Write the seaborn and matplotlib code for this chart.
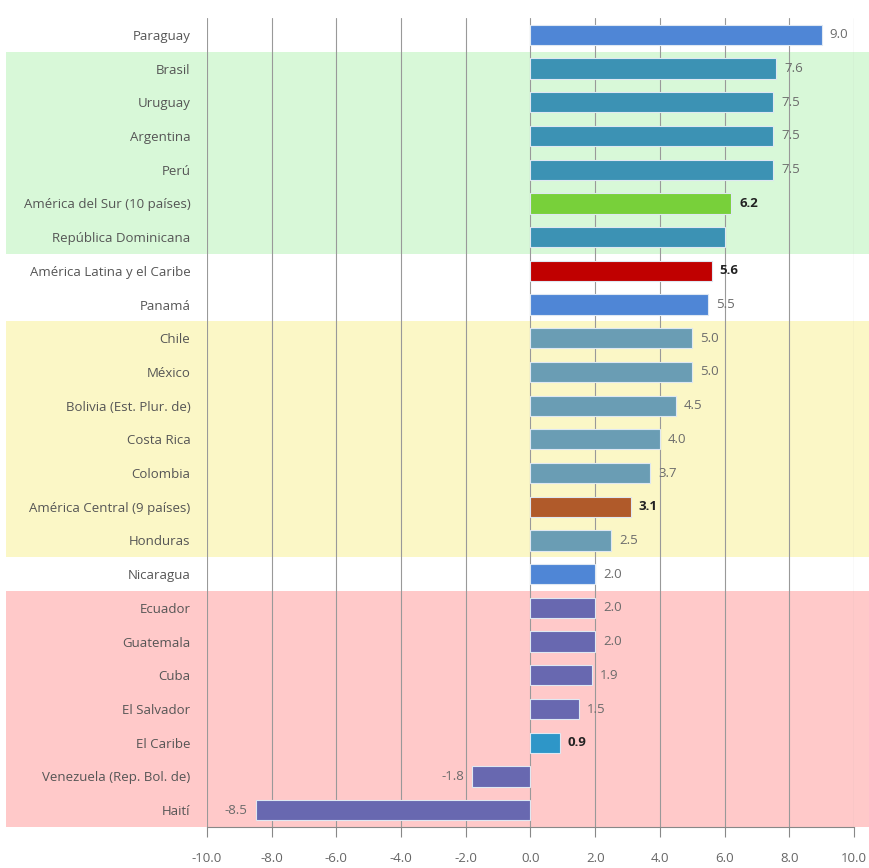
import matplotlib
matplotlib.use("Agg")
import matplotlib.pyplot as plt
import seaborn as sns
from matplotlib import font_manager

# data
paises = ["Paraguay", "Brasil", "Uruguay", "Argentina", "Perú",
          "América del Sur (10 países)", "República Dominicana",
          "América Latina y el Caribe", "Panamá", "Chile", "México",
          "Bolivia (Est. Plur. de)", "Costa Rica", "Colombia",
          "América Central (9 países)", "Honduras", "Nicaragua", "Ecuador",
          "Guatemala", "Cuba", "El Salvador", "El Caribe",
          "Venezuela (Rep. Bol. de)", "Haití"]
crecimiento = [9.0, 7.6, 7.5, 7.5, 7.5, 6.2, 6.0, 5.6, 5.5, 5.0, 5.0, 4.5,
               4.0, 3.7, 3.1, 2.5, 2.0, 2.0, 2.0, 1.9, 1.5, 0.9, -1.8, -8.5]
etiquetas = ["9.0", "7.6", "7.5", "7.5", "7.5", "6.2", "", "5.6", "5.5",
             "5.0", "5.0", "4.5", "4.0", "3.7", "3.1", "2.5", "2.0", "2.0",
             "2.0", "1.9", "1.5", "0.9", "-1.8", "-8.5"]
agregados = ["América del Sur (10 países)", "América Latina y el Caribe",
             "América Central (9 países)", "El Caribe"]
x_ticks = [-10, -8, -6, -4, -2, 0, 2, 4, 6, 8, 10]

# colores de barras
c_azul, c_teal, c_gris = "#4F86D6", "#3C92B4", "#6A9DB4"
c_morado = "#6868B0"
colores = [c_azul, c_teal, c_teal, c_teal, c_teal, "#78D03A", c_teal,
           "#C00000", c_azul, c_gris, c_gris, c_gris, c_gris, c_gris,
           "#B05A2A", c_gris, c_azul, c_morado, c_morado, c_morado, c_morado,
           "#2E96C8", c_morado, c_morado]
paleta = dict(zip(paises, colores))

# bandas de fondo: (fila inicial, fila final, color)
bandas = [(1, 6, "#D8F8D8"), (9, 15, "#FBF7C6"), (17, 23, "#FFC9C9")]

names = {f.name for f in font_manager.fontManager.ttflist}
familia = ["Liberation Sans Narrow", "DejaVu Sans"] if "Liberation Sans Narrow" in names else ["Open Sans", "DejaVu Sans"]

sns.set_style("white")
plt.rcParams["font.family"] = familia

fig = plt.figure(figsize=(8.7, 8.68), dpi=100)
ax = fig.add_axes([207 / 870, 1 - 827 / 868, 647 / 870, (827 - 18) / 868])

for ini, fin, col in bandas:
    band = ax.axhspan(ini - 0.5, fin + 0.5, xmin=-0.31, xmax=1.03,
                      color=col, zorder=0, lw=0)
    band.set_clip_on(False)

sns.barplot(x=crecimiento, y=paises, hue=paises, palette=paleta, legend=False,
            orient="h", width=0.6, saturation=1, ax=ax, zorder=3,
            edgecolor="#dfe8f2", linewidth=0.8)

ax.set_xlim(-10, 10)
ax.set_ylim(len(paises) - 0.5, -0.5)
ax.set_xticks(x_ticks)
ax.set_xticklabels([f"{t:.1f}" for t in x_ticks], color="#666666", fontsize=9.5)
ax.tick_params(axis="x", direction="out", length=7, width=0.8, color="#888888", pad=11, bottom=True)
ax.tick_params(axis="y", length=0, pad=12, labelsize=9.5, labelcolor="#555555")
ax.set_xlabel("")
ax.set_ylabel("")

for x in x_ticks:
    ax.axvline(x, color="#999999", lw=0.8, zorder=1)

for s in ["top", "right", "left"]:
    ax.spines[s].set_visible(False)
ax.spines["bottom"].set_color("#888888")
ax.spines["bottom"].set_linewidth(0.8)
ax.patch.set_alpha(0)

for i, (p, v, lab) in enumerate(zip(paises, crecimiento, etiquetas)):
    if not lab:
        continue
    bold = p in agregados
    off = 0.25 if v >= 0 else -0.25
    ax.text(v + off, i, lab, va="center", ha="left" if v >= 0 else "right",
            fontsize=9.5, color="#222222" if bold else "#6b6b6b",
            fontweight="bold" if bold else "normal", zorder=4)

fig.savefig("out.png", dpi=100)
